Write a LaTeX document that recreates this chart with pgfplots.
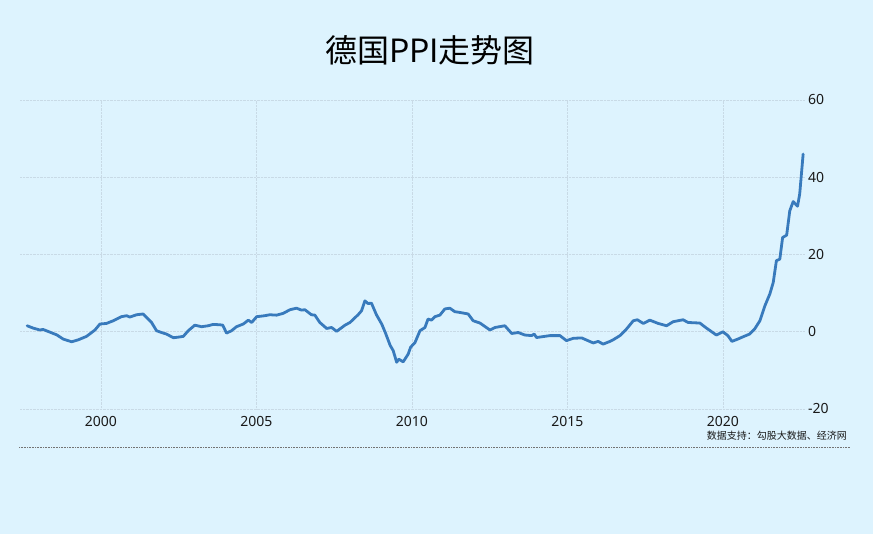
\documentclass[border=0pt]{standalone}
\usepackage{pgfplots}
\pgfplotsset{compat=1.18}
\usepackage{fontspec}
\setmainfont{Noto Sans}
\newfontfamily\cjk{Noto Sans CJK SC}
\definecolor{bg}{RGB}{221,243,254}
\definecolor{linec}{RGB}{56,122,188}
\definecolor{gridc}{RGB}{200,218,230}
\definecolor{txt}{RGB}{25,25,25}

% German PPI, year-on-year change in percent
\pgfplotstableread{
year value
1997.63 1.55
1997.82 0.95
1998.04 0.45
1998.14 0.6
1998.36 -0.1
1998.58 -0.8
1998.79 -1.9
1999.06 -2.6
1999.27 -2.1
1999.54 -1.2
1999.81 0.45
1999.97 2.0
2000.18 2.15
2000.40 2.85
2000.66 3.9
2000.83 4.15
2000.93 3.8
2001.15 4.4
2001.36 4.6
2001.47 3.7
2001.63 2.4
2001.79 0.26
2001.95 -0.2
2002.11 -0.6
2002.33 -1.55
2002.49 -1.4
2002.65 -1.2
2002.81 0.26
2003.02 1.7
2003.24 1.3
2003.45 1.55
2003.61 1.9
2003.83 1.8
2003.92 1.7
2004.04 -0.35
2004.20 0.26
2004.36 1.3
2004.58 2.0
2004.74 3.0
2004.85 2.4
2005.01 3.9
2005.27 4.15
2005.43 4.4
2005.65 4.3
2005.86 4.75
2006.08 5.7
2006.29 6.1
2006.45 5.6
2006.56 5.7
2006.77 4.4
2006.88 4.3
2007.04 2.4
2007.26 0.85
2007.42 1.1
2007.58 0.1
2007.85 1.7
2008.01 2.4
2008.27 4.4
2008.38 5.4
2008.49 8.0
2008.59 7.3
2008.70 7.4
2008.86 4.4
2009.03 2.0
2009.15 -0.3
2009.30 -3.5
2009.40 -4.9
2009.51 -7.9
2009.58 -7.1
2009.72 -7.8
2009.88 -5.8
2009.96 -4.0
2010.10 -2.8
2010.26 0.26
2010.42 1.1
2010.52 3.3
2010.63 3.0
2010.74 3.9
2010.90 4.3
2011.06 5.9
2011.22 6.1
2011.38 5.2
2011.54 5.0
2011.81 4.6
2011.97 2.85
2012.19 2.25
2012.51 0.45
2012.67 1.1
2012.99 1.55
2013.21 -0.45
2013.42 -0.2
2013.63 -0.85
2013.85 -1.0
2013.93 -0.6
2014.01 -1.5
2014.44 -1.0
2014.76 -1.0
2014.97 -2.3
2015.19 -1.7
2015.46 -1.6
2015.83 -2.9
2015.99 -2.5
2016.15 -3.2
2016.37 -2.5
2016.47 -2.1
2016.69 -1.0
2016.90 0.7
2017.12 2.85
2017.25 3.1
2017.44 2.15
2017.65 3.0
2017.92 2.15
2018.19 1.55
2018.40 2.6
2018.72 3.1
2018.88 2.4
2019.26 2.25
2019.47 0.95
2019.79 -0.85
2020.00 0
2020.16 -1.0
2020.29 -2.5
2020.48 -1.9
2020.65 -1.3
2020.86 -0.6
2021.02 0.7
2021.19 2.85
2021.35 6.7
2021.51 9.8
2021.62 12.8
2021.72 18.4
2021.83 18.8
2021.92 24.4
2022.05 25.0
2022.15 31.3
2022.26 33.7
2022.40 32.5
2022.47 35.7
2022.58 46.0
}\ppidata

\begin{document}
\begin{tikzpicture}[x=1pt,y=1pt]
\fill[bg] (0,0) rectangle (873,534);
\useasboundingbox (0,0) rectangle (873,534);
\begin{axis}[
  at={(20pt,125pt)}, anchor=south west,
  scale only axis, width=785pt, height=309pt,
  xmin=1997.40, xmax=2022.64, ymin=-20, ymax=60,
  xtick={2000,2005,2010,2015,2020},
  ytick={-20,0,20,40,60},
  xticklabel={\pgfmathprintnumber[1000 sep={}]{\tick}},
  axis line style={draw=none},
  major tick length=0pt,
  grid=major,
  major grid style={densely dotted, color=gridc, line width=0.7pt},
  yticklabel pos=right,
  tick label style={font=\fontsize{14}{16}\selectfont, text=txt},
  /pgf/number format/assume math mode=true,
  xticklabel style={anchor=base, yshift=-18pt},
  yticklabel style={anchor=west, inner sep=0pt, xshift=3pt},
]
\addplot[linec, line width=2.8pt, line join=round, line cap=round] table[x=year, y=value] {\ppidata};
\end{axis}
\node[font=\cjk\fontsize{32}{36}\selectfont, text=black] at (430,484) {德国PPI走势图};
\draw[black!55, densely dotted, line width=0.6pt] (19,87) -- (850,87);
\node[anchor=base east, inner sep=0pt, font=\cjk\fontsize{10}{12}\selectfont, text=txt] at (847,94) {数据支持：勾股大数据、经济网};
\end{tikzpicture}
\end{document}
